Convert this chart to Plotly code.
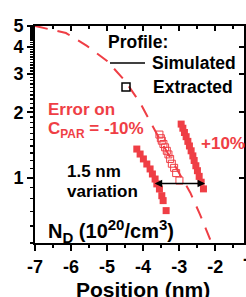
import numpy as np
import plotly.graph_objects as go

RED = "#EF3E45"
FONT = "Liberation Sans, Arial, sans-serif"

# Simulated profile (dashed line)
sim_x = [-7.0, -6.14, -5.56, -5.0, -4.5, -4.08, -3.61, -2.69, -2.42, -2.14, -2.10]
sim_y = [5.0, 4.64, 4.05, 3.45, 2.79, 2.21, 1.58, 0.853, 0.676, 0.525, 0.50]

# Extracted profile (open squares)
ext_x = [-3.547, -3.508, -3.481, -3.436, -3.389, -3.342, -3.297, -3.25, -3.203, -3.139, -3.083, -2.992]
ext_y = [1.58, 1.52, 1.48, 1.43, 1.38, 1.33, 1.28, 1.22, 1.16, 1.11, 1.05, 0.97]

# Error on C_PAR = -10% (filled squares)
m10_x = [-4.175, -4.083, -3.992, -3.897, -3.806, -3.742, -3.667, -3.619, -3.547, -3.481, -3.444, -3.361]
m10_y = [1.355, 1.285, 1.22, 1.156, 1.097, 1.04, 0.986, 0.936, 0.887, 0.826, 0.784, 0.705]

# Error on C_PAR = +10% (filled squares)
p10_x = [-2.944, -2.897, -2.853, -2.806, -2.758, -2.714, -2.667, -2.619, -2.583, -2.536, -2.492, -2.444, -2.389, -2.325]
p10_y = [1.766, 1.69, 1.615, 1.545, 1.47, 1.40, 1.33, 1.26, 1.20, 1.135, 1.077, 1.014, 0.953, 0.888]

x_ticks = [-7, -6, -5, -4, -3, -2]
x_ticktext = ["-7", "-6", "-5", "-4", "-3", "-2"]
y_ticks = [1, 2, 3, 4, 5]
y_ticktext = ["1", "2", "3", "4", "5"]
x_range = [-7, -1.2]
y_range = [0.5, 5]

arrow_x = [-3.72, -2.28]
arrow_y = 0.94

fig = go.Figure()
fig.add_trace(go.Scatter(x=sim_x, y=sim_y, mode="lines",
                         line=dict(color=RED, width=2, dash="13px,10px"), showlegend=False))
fig.add_trace(go.Scatter(x=m10_x, y=m10_y, mode="markers",
                         marker=dict(symbol="square", size=7, color=RED, line=dict(width=0)), showlegend=False))
fig.add_trace(go.Scatter(x=p10_x, y=p10_y, mode="markers",
                         marker=dict(symbol="square", size=7, color=RED, line=dict(width=0)), showlegend=False))
fig.add_trace(go.Scatter(x=ext_x, y=ext_y, mode="markers",
                         marker=dict(symbol="square-open", size=7, color=RED, line=dict(width=1)), showlegend=False))
fig.add_trace(go.Scatter(x=[None], y=[None], xaxis="x2", yaxis="y2", showlegend=False))

tickfont = dict(family=FONT, size=18, color="black", weight="bold")
minor_x = [v + 0.5 for v in range(-7, -1)]
minor_y = [round(v * 0.1, 1) for v in range(5, 51) if (v % 10) != 0]

fig.update_layout(
    width=246, height=297,
    margin=dict(l=35, r=2, t=26, b=54),
    plot_bgcolor="white", paper_bgcolor="white",
    xaxis=dict(range=x_range, tickmode="array", tickvals=x_ticks, ticktext=x_ticktext,
               ticks="outside", ticklen=6, tickwidth=2, tickcolor="black", showline=True,
               linecolor="black", linewidth=2, showgrid=False, zeroline=False, tickfont=tickfont,
               automargin=False,
               minor=dict(tickmode="array", tickvals=minor_x, ticks="outside", ticklen=3,
                          tickwidth=2, tickcolor="black")),
    yaxis=dict(type="log", range=[np.log10(y_range[0]), np.log10(y_range[1])], tickmode="array",
               tickvals=y_ticks, ticktext=y_ticktext, ticks="outside", ticklen=6,
               tickwidth=2, tickcolor="black", showline=True, linecolor="black", linewidth=2,
               showgrid=False, zeroline=False, tickfont=tickfont, automargin=False,
               minor=dict(tickmode="array", tickvals=minor_y, ticks="outside", ticklen=3,
                          tickwidth=1.5, tickcolor="black")),
    xaxis2=dict(overlaying="x", side="top", range=x_range, tickmode="array", tickvals=x_ticks,
                ticks="inside", ticklen=5, tickwidth=2, tickcolor="black", showline=True,
                linecolor="black", linewidth=2, showticklabels=False, showgrid=False, zeroline=False,
                automargin=False,
                minor=dict(tickmode="array", tickvals=minor_x, ticks="inside", ticklen=3,
                           tickwidth=2, tickcolor="black")),
    yaxis2=dict(overlaying="y", side="right", type="log",
                range=[np.log10(y_range[0]), np.log10(y_range[1])], tickmode="array",
                tickvals=y_ticks, ticks="inside", ticklen=5, tickwidth=2, tickcolor="black",
                showline=True, linecolor="black", linewidth=2, showticklabels=False,
                showgrid=False, zeroline=False, automargin=False),
)

def px2paper(px, py):
    return (px - 35) / 209.0, (243 - py) / 217.0

def txt(text, px, py, color="black", size=17.5, anchor="left"):
    x, y = px2paper(px, py)
    fig.add_annotation(text=text, x=x, y=y, xref="paper", yref="paper", xanchor=anchor,
                       yanchor="middle", showarrow=False, borderpad=0,
                       font=dict(family=FONT, size=size, color=color, weight="bold"))

txt("Profile:", 107, 42)
txt("Simulated", 151, 63)
txt("Extracted", 152, 87)
txt("Error on", 47, 109, RED, 17)
txt("C<sub>PAR</sub> = -10%", 47, 130, RED, 17)
txt("+10%", 200, 143, RED, 17)
txt("1.5 nm", 66, 171, size=17)
txt("variation", 66, 191, size=17)
txt("N<sub><span style='font-size:15px'>D</span></sub> (10<sup><span style='font-size:15px'>20</span></sup>"
    "/cm<sup><span style='font-size:15px'>3</span></sup>)", 47, 231, size=20)
txt("Position (nm)", 143, 289, size=21, anchor="center")
txt("-1", 251, 259, size=18, anchor="center")

# legend symbols
lx0, ly = px2paper(110, 63)
lx1, _ = px2paper(145, 63)
fig.add_shape(type="line", xref="paper", yref="paper", x0=lx0, x1=lx1, y0=ly, y1=ly,
              line=dict(color="black", width=1.5))
sx0, sy0 = px2paper(122, 91)
sx1, sy1 = px2paper(130, 83)
fig.add_shape(type="rect", xref="paper", yref="paper", x0=sx0, x1=sx1, y0=sy0, y1=sy1,
              line=dict(color="black", width=1.5))

fig.add_annotation(x=arrow_x[1], y=np.log10(arrow_y), ax=arrow_x[0], ay=np.log10(arrow_y),
                   xref="x", yref="y", axref="x", ayref="y", text="", showarrow=True,
                   arrowhead=2, arrowside="end+start", arrowsize=1, arrowwidth=1.5,
                   arrowcolor="black")

fig.write_html("out.html", config={"displayModeBar": False, "staticPlot": True},
               post_script="document.body.style.margin='0';document.body.style.padding='0';"
                           "document.body.style.overflow='hidden';")
